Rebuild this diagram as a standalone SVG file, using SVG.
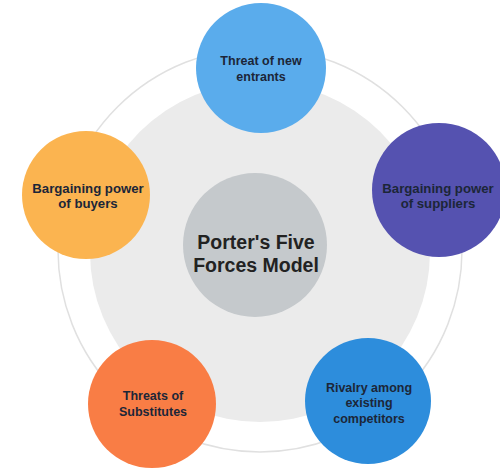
<svg xmlns="http://www.w3.org/2000/svg" width="500" height="468" viewBox="0 0 500 468">
<style>
.lbl{font-family:"Liberation Sans",Arial,sans-serif;font-weight:bold;font-size:12.5px;fill:#1c2638;text-anchor:middle}
.big{font-size:13.2px}
.ctr{font-family:"Liberation Sans",Arial,sans-serif;font-weight:bold;font-size:19.5px;fill:#222;text-anchor:middle}
</style>
<rect width="500" height="468" fill="#ffffff"/>
<g id="background">
<circle cx="260" cy="250" r="202" fill="#ffffff" stroke="#e0e0e0" stroke-width="1.5"/>
<circle cx="260" cy="252" r="170" fill="#ebebeb"/>
</g>
<g id="connectors"></g>
<g id="center">
<circle cx="255" cy="245" r="72" fill="#c5c9cc"/>
<text class="ctr" x="256" y="249">Porter's Five</text>
<text class="ctr" x="256" y="272">Forces Model</text>
</g>
<g id="new-entrants">
<circle cx="261" cy="68" r="65" fill="#5aacec"/>
<text class="lbl" x="261" y="65">Threat of new</text>
<text class="lbl" x="261" y="81">entrants</text>
</g>
<g id="suppliers">
<circle cx="439" cy="190" r="67" fill="#5552b0"/>
<text class="lbl big" x="438" y="193">Bargaining power</text>
<text class="lbl big" x="438" y="208">of suppliers</text>
</g>
<g id="buyers">
<circle cx="86" cy="195" r="64" fill="#fbb450"/>
<text class="lbl big" x="88" y="193">Bargaining power</text>
<text class="lbl big" x="88" y="208">of buyers</text>
</g>
<g id="substitutes">
<circle cx="152" cy="404" r="64" fill="#f97d45"/>
<text class="lbl" x="153" y="400">Threats of</text>
<text class="lbl" x="153" y="416">Substitutes</text>
</g>
<g id="rivalry">
<circle cx="368" cy="401" r="63" fill="#2d8ddc"/>
<text class="lbl" x="369" y="392">Rivalry among</text>
<text class="lbl" x="369" y="407">existing</text>
<text class="lbl" x="369" y="423">competitors</text>
</g>
</svg>
